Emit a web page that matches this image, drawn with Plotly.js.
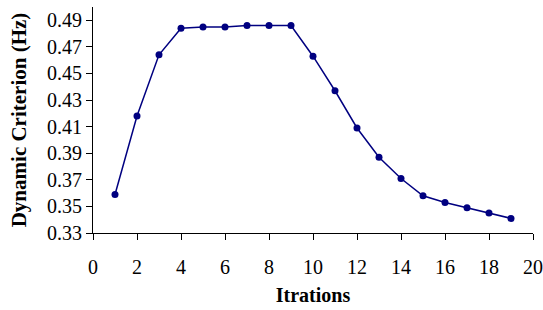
<!DOCTYPE html>
<html>
<head>
<meta charset="utf-8">
<script src="https://cdn.plot.ly/plotly-3.0.1.min.js"></script>
<style>
  html, body { margin: 0; padding: 0; background: #fff; }
  #chart { width: 543px; height: 310px; }
</style>
</head>
<body>
<div id="chart"></div>
<script>
const iterations = [1, 2, 3, 4, 5, 6, 7, 8, 9, 10, 11, 12, 13, 14, 15, 16, 17, 18, 19];
const criterionHz = [0.359, 0.418, 0.464, 0.484, 0.485, 0.485, 0.486, 0.486, 0.486, 0.463, 0.437, 0.409, 0.387, 0.371, 0.358, 0.353, 0.349, 0.345, 0.341];
const xTitle = "Itrations";
const yTitle = "Dynamic Criterion (Hz)";

const font = "Liberation Serif, Times New Roman, serif";

const trace = {
  x: iterations,
  y: criterionHz,
  type: "scatter",
  mode: "lines+markers",
  line: { color: "#000080", width: 1.5 },
  marker: { color: "#000080", size: 7 },
  hoverinfo: "x+y"
};

const layout = {
  width: 543,
  height: 310,
  margin: { l: 93, r: 10, t: 7, b: 77 },
  paper_bgcolor: "#fff",
  plot_bgcolor: "#fff",
  showlegend: false,
  font: { family: font, size: 20, color: "#000" },
  xaxis: {
    range: [0, 20],
    tick0: 0,
    dtick: 2,
    showgrid: false,
    zeroline: false,
    showline: true,
    linecolor: "#000",
    linewidth: 1,
    ticks: "outside",
    ticklen: 6,
    tickcolor: "#000",
    ticklabelstandoff: 10,
    tickfont: { family: font, size: 20, color: "#000" },
    title: { text: "<b>" + xTitle + "</b>", font: { family: font, size: 20, color: "#000" }, standoff: 10 }
  },
  yaxis: {
    range: [0.33, 0.50],
    tick0: 0.33,
    dtick: 0.02,
    tickformat: ".2f",
    showgrid: false,
    zeroline: false,
    showline: true,
    linecolor: "#000",
    linewidth: 1,
    ticks: "outside",
    ticklen: 6,
    tickcolor: "#000",
    tickfont: { family: font, size: 20, color: "#000" },
    title: { text: "<b>" + yTitle + "</b>", font: { family: font, size: 21, color: "#000" }, standoff: 14 }
  }
};

Plotly.newPlot("chart", [trace], layout, { displayModeBar: false, staticPlot: true });
</script>
</body>
</html>
